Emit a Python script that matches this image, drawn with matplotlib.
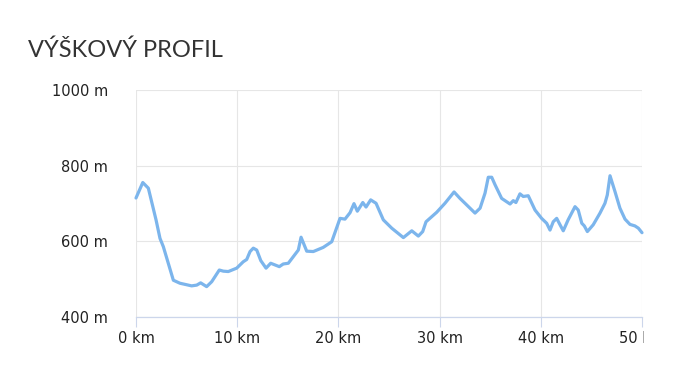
import matplotlib
matplotlib.use('Agg')
import matplotlib.pyplot as plt
from matplotlib.transforms import Bbox, TransformedBbox

# elevation profile (km, m)
distance_km = [0.0, 0.67, 1.22, 1.98, 2.37, 2.70, 3.69, 4.34, 5.50, 6.00,
               6.39, 6.98, 7.48, 8.23, 8.63, 9.12, 9.95, 10.60, 10.94, 11.27,
               11.59, 11.93, 12.33, 12.85, 13.31, 14.16, 14.55, 15.05, 16.04, 16.31,
               16.87, 17.52, 18.50, 19.34, 20.16, 20.65, 21.15, 21.54, 21.87, 22.41,
               22.73, 23.19, 23.72, 24.44, 25.27, 26.42, 27.25, 27.90, 28.33, 28.66,
               29.71, 30.53, 31.43, 32.01, 32.51, 33.50, 34.00, 34.49, 34.81, 35.15,
               35.48, 36.13, 36.96, 37.28, 37.54, 37.94, 38.27, 38.76, 39.43, 40.08,
               40.58, 40.91, 41.23, 41.57, 41.90, 42.22, 42.70, 43.38, 43.70, 44.05,
               44.30, 44.60, 45.18, 45.85, 46.34, 46.57, 46.84, 47.33, 47.82, 48.32,
               48.81, 49.30, 49.64, 50.0]
elevation_m = [715, 756, 741, 657, 608, 586, 497, 489, 482, 484,
               490, 480, 493, 524, 521, 520, 529, 546, 552, 573,
               582, 577, 549, 529, 542, 533, 540, 542, 577, 611,
               574, 573, 584, 599, 661, 659, 676, 700, 680, 703,
               691, 710, 701, 657, 635, 610, 628, 614, 626, 652,
               677, 701, 731, 714, 701, 675, 688, 728, 770, 770,
               750, 714, 699, 708, 703, 726, 719, 721, 683, 661,
               648, 630, 652, 661, 644, 628, 657, 692, 683, 648,
               641, 626, 644, 675, 701, 723, 774, 732, 688, 659,
               645, 641, 635, 623]

x_ticks = [0, 10, 20, 30, 40, 50]
y_ticks = [400, 600, 800, 1000]
title = 'VÝŠKOVÝ PROFIL'

W, H = 673, 367
fig = plt.figure(figsize=(W / 100, H / 100), dpi=100)
left, right, top, bottom = 136, 642, 90.5, 316.8
ax = fig.add_axes([left / W, 1 - bottom / H, (right - left) / W, (bottom - top) / H])

ax.plot(distance_km, elevation_m, color='#7cb5ec', lw=2.3,
        solid_joinstyle='round', solid_capstyle='round', clip_on=False, zorder=3)

ax.set_xlim(0, 50)
ax.set_ylim(400, 1000)
ax.set_xticks(x_ticks)
ax.set_xticklabels(['%d km' % v for v in x_ticks])
ax.set_yticks(y_ticks)
ax.set_yticklabels(['%d m' % v for v in y_ticks])

for s in ['top', 'right', 'left']:
    ax.spines[s].set_visible(False)
ax.spines['bottom'].set_color('#ccd6eb')
ax.spines['bottom'].set_linewidth(0.9)

ax.grid(True, color='#e6e6e6', lw=0.8)
ax.set_axisbelow(True)
ax.tick_params(axis='x', length=7.5, width=0.8, color='#ccd6eb', pad=3,
               labelsize=10.5, labelcolor='#222222')
ax.tick_params(axis='y', length=0, pad=20, labelsize=10.5, labelcolor='#222222')

fig.text(28 / W, 1 - 57.3 / H, title, fontfamily='Lato', fontsize=17,
         color='#333333', ha='left', va='baseline')

# the last x label is cut at the plot's right edge
fig.canvas.draw()
clip = TransformedBbox(Bbox([[0, 0], [(right + 1.5) / W, 1]]), fig.transFigure)
for lab in ax.get_xticklabels():
    lab.set_clip_box(clip)
    lab.set_clip_on(True)

fig.savefig('out.png', dpi=100)
